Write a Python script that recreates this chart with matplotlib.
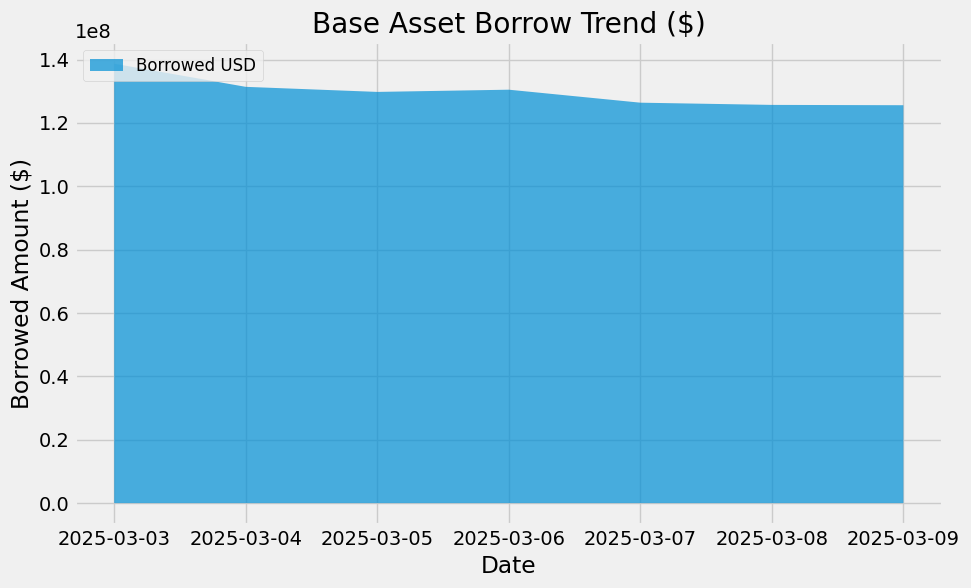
import matplotlib
matplotlib.use('Agg')
import matplotlib.pyplot as plt
import pandas as pd

plt.style.use('fivethirtyeight')

dates = pd.to_datetime(['2025-03-03', '2025-03-04', '2025-03-05', '2025-03-06',
                        '2025-03-07', '2025-03-08', '2025-03-09'])
borrowed_usd = [1.387e8, 1.314e8, 1.298e8, 1.305e8, 1.264e8, 1.257e8, 1.256e8]

fig, ax = plt.subplots(figsize=(9.71, 5.88), dpi=100)
ax.fill_between(dates, borrowed_usd, label='Borrowed USD', alpha=0.7)

ax.set_title('Base Asset Borrow Trend ($)')
ax.set_xlabel('Date')
ax.set_ylabel('Borrowed Amount ($)')
ax.legend(loc='upper left', fontsize=12)
ax.set_xticks(dates)
ax.set_xticklabels([d.strftime('%Y-%m-%d') for d in dates])

fig.subplots_adjust(left=0.077, right=0.971, bottom=0.107, top=0.929)
plt.savefig('out.png', dpi=100)
